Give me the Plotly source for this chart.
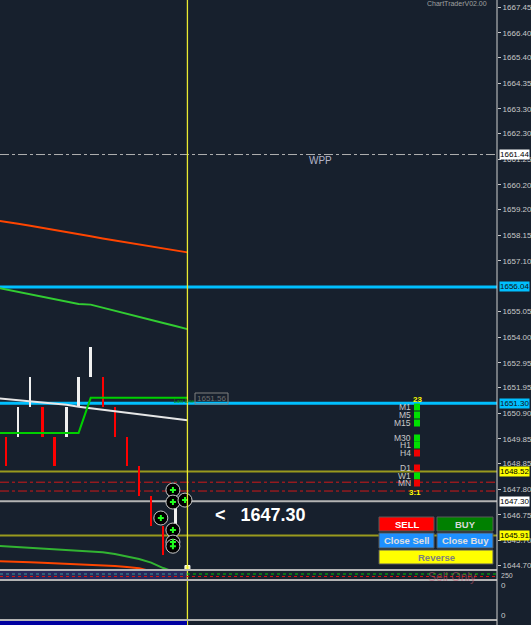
import plotly.graph_objects as go

# ---------------- data ----------------
bar_idx = list(range(15))
bar_open = [1649.94, 1649.94, 1651.15, 1651.15, 1649.94, 1649.94, 1651.15, 1652.37,
            1652.37, 1651.15, 1649.94, 1648.73, 1647.52, 1646.31, 1645.52]
bar_close = [1648.73, 1651.15, 1652.37, 1649.94, 1648.73, 1651.15, 1652.37, 1653.58,
             1651.15, 1649.94, 1648.73, 1647.52, 1646.31, 1645.10, 1647.55]

ma_idx = list(range(-1, 16))
ma_orange = [1658.76, 1658.70, 1658.62, 1658.54, 1658.46, 1658.37, 1658.28, 1658.20, 1658.11,
             1658.02, 1657.94, 1657.86, 1657.77, 1657.68, 1657.59, 1657.51, 1657.45]
ma_green = [1656.04, 1655.94, 1655.84, 1655.74, 1655.64, 1655.53, 1655.43, 1655.35, 1655.32,
            1655.20, 1655.08, 1654.95, 1654.83, 1654.70, 1654.57, 1654.45, 1654.32]
ma_white = [1651.52, 1651.47, 1651.43, 1651.39, 1651.35, 1651.30, 1651.24, 1651.16, 1651.10,
            1651.04, 1650.98, 1650.90, 1650.83, 1650.77, 1650.71, 1650.66, 1650.61]
step_green = [1650.09, 1650.09, 1650.09, 1650.09, 1650.09, 1650.09, 1650.09, 1650.09, 1651.52,
              1651.52, 1651.52, 1651.52, 1651.52, 1651.52, 1651.52, 1651.52, 1651.52]
low_green = [1645.49, 1645.46, 1645.44, 1645.41, 1645.38, 1645.35, 1645.32, 1645.29, 1645.26,
             1645.22, 1645.15, 1645.06, 1644.95, 1644.80, 1644.58, 1644.40, 1644.30]
low_orange = [1644.87, 1644.86, 1644.84, 1644.82, 1644.80, 1644.78, 1644.76, 1644.74, 1644.72,
              1644.69, 1644.66, 1644.62, 1644.57, 1644.45, 1644.35, 1644.30, 1644.25]

circ_x = [13.8, 13.8, 14.8, 12.8, 13.8, 13.8, 13.8]
circ_y = [1647.76, 1647.27, 1647.35, 1646.62, 1646.13, 1645.64, 1645.47]

tick_vals = [1667.45, 1666.40, 1665.40, 1664.35, 1663.30, 1662.30, 1661.25, 1660.20,
             1659.20, 1658.15, 1657.10, 1655.05, 1654.00, 1652.95, 1651.95, 1650.90,
             1649.85, 1648.85, 1647.80, 1646.75, 1645.70, 1644.70]
tick_text = ["%.2f" % v for v in tick_vals]

wpp_level = 1661.44
cyan_levels = [1656.04, 1651.30]
olive_levels = [1648.52, 1645.91]
red_levels = [1648.08, 1647.72]
price_level = 1647.30
current_bar = 15

tf_labels = ["M1", "M5", "M15", "M30", "H1", "H4", "D1", "W1", "MN"]
tf_colors = ["#00e000", "#00e000", "#00e000", "#00e000", "#00e000", "#f00000",
             "#f00000", "#00e000", "#f00000"]
tf_ypx = [407, 415, 423, 438, 445, 453, 468, 476, 483]

# ---------------- layout helpers ----------------
W, H = 531, 625
AX_X = 497
MAIN_BOTTOM = 570
BG = "#17202d"
Y0, Y1 = 1644.50, 1667.74
FONT = "Liberation Sans"


def px(x):
    return x / W


def py(y):
    return 1 - y / H


def note(x, y, text, size, color, xanchor="center", bold=False, **kw):
    d = dict(xref="paper", yref="paper", x=px(x), y=py(y), xanchor=xanchor, yanchor="middle",
             text="<b>%s</b>" % text if bold else text, showarrow=False, borderpad=0,
             font=dict(family=FONT, size=size, color=color))
    d.update(kw)
    return d


fig = go.Figure()

# candles
fig.add_trace(go.Bar(
    x=bar_idx, y=[c - o for o, c in zip(bar_open, bar_close)], base=bar_open,
    width=0.2,
    marker=dict(color=["#f0f0f0" if c > o else "#ff0000" for o, c in zip(bar_open, bar_close)],
                line=dict(width=0)),
    hoverinfo="skip", showlegend=False))

line_specs = [
    (ma_orange, "#ff4500", 2),
    (ma_green, "#32cd32", 2),
    (ma_white, "#e6e6e6", 2),
    (step_green, "#00d000", 2),
    (low_green, "#32b432", 2),
    (low_orange, "#ff4500", 2),
]
for vals, col, w in line_specs:
    fig.add_trace(go.Scatter(x=ma_idx, y=vals, mode="lines",
                             line=dict(color=col, width=w),
                             hoverinfo="skip", showlegend=False))

# trade circles
fig.add_trace(go.Scatter(x=circ_x, y=circ_y, mode="markers",
                         marker=dict(symbol="circle", size=14, color="#000000",
                                     line=dict(color="#c8c8c8", width=1)),
                         hoverinfo="skip", showlegend=False))
fig.add_trace(go.Scatter(x=circ_x, y=circ_y, mode="markers",
                         marker=dict(symbol="cross", size=5, color="#20ff20",
                                     line=dict(width=0)),
                         hoverinfo="skip", showlegend=False))
# small yellow marker at the current bar
fig.add_trace(go.Scatter(x=[current_bar], y=[1644.58], mode="markers",
                         marker=dict(symbol="square", size=5, color="#ffff80",
                                     line=dict(color="#ffffff", width=1)),
                         hoverinfo="skip", showlegend=False))

shapes = []


def hline(level, color, width, dash="solid"):
    shapes.append(dict(type="line", xref="paper", x0=0, x1=px(AX_X), yref="y",
                       y0=level, y1=level, line=dict(color=color, width=width, dash=dash),
                       layer="below"))


hline(wpp_level, "#b0b0b0", 1, "dashdot")
for lv in olive_levels:
    hline(lv, "#9a9a1e", 2)
for lv in red_levels:
    hline(lv, "#d01818", 1, "dashdot")
hline(price_level, "#b4b4b4", 2)
for lv in cyan_levels:
    hline(lv, "#00bfff", 3)

# vertical current-bar line
shapes.append(dict(type="line", xref="x", x0=current_bar, x1=current_bar, yref="paper",
                   y0=0, y1=1, line=dict(color="#eaea30", width=1.3)))

# sub panels
shapes += [
    dict(type="rect", xref="paper", yref="paper", x0=0, x1=px(187), y0=py(579), y1=py(571),
         fillcolor="#28285a", line=dict(width=0), layer="below"),
    dict(type="line", xref="paper", yref="paper", x0=0, x1=px(187), y0=py(574), y1=py(574),
         line=dict(color="#3c9696", width=1, dash="dot")),
    dict(type="line", xref="paper", yref="paper", x0=px(187), x1=px(AX_X), y0=py(574), y1=py(574),
         line=dict(color="#00c000", width=1, dash="dot")),
    dict(type="line", xref="paper", yref="paper", x0=0, x1=px(AX_X), y0=py(576.5), y1=py(576.5),
         line=dict(color="#d01818", width=1, dash="dot")),
    dict(type="line", xref="paper", yref="paper", x0=0, x1=px(AX_X), y0=py(570), y1=py(570),
         line=dict(color="#b4b4b4", width=2)),
    dict(type="line", xref="paper", yref="paper", x0=0, x1=px(AX_X), y0=py(580), y1=py(580),
         line=dict(color="#b4b4b4", width=2)),
    dict(type="line", xref="paper", yref="paper", x0=0, x1=px(AX_X), y0=py(620), y1=py(620),
         line=dict(color="#b4b4b4", width=2)),
    dict(type="rect", xref="paper", yref="paper", x0=0, x1=px(187), y0=0, y1=py(621),
         fillcolor="#0000a0", line=dict(width=0)),
    # price axis line (full height)
    dict(type="line", xref="paper", yref="paper", x0=px(AX_X), x1=px(AX_X), y0=0, y1=1,
         line=dict(color="#d0d0d0", width=1)),
    # 1651.56 box
    dict(type="rect", xref="paper", yref="paper", x0=px(195), x1=px(228), y0=py(404), y1=py(393),
         fillcolor="rgba(0,0,0,0)", line=dict(color="#808080", width=1)),
]

# trading buttons
buttons = [
    (379, 434, 517, 531, "#ff0000", "SELL", "#ffffff"),
    (437, 493, 517, 531, "#008000", "BUY", "#d8d8d8"),
    (379, 434, 533, 548, "#1e90ff", "Close Sell", "#e0e0e0"),
    (437, 493, 533, 548, "#1e90ff", "Close Buy", "#e0e0e0"),
    (379, 493, 550, 564, "#ffff00", "Reverse", "#808080"),
]
annotations = []
for x0, x1, y0, y1, fill, label, tcol in buttons:
    shapes.append(dict(type="rect", xref="paper", yref="paper", x0=px(x0), x1=px(x1),
                       y0=py(y1), y1=py(y0), fillcolor=fill,
                       line=dict(color="#5a5a5a", width=1)))
    annotations.append(note((x0 + x1) / 2, (y0 + y1) / 2, label, 9.5, tcol, bold=True))

# timeframe panel
for lab, col, ypx in zip(tf_labels, tf_colors, tf_ypx):
    shapes.append(dict(type="rect", xref="paper", yref="paper", x0=px(414), x1=px(420),
                       y0=py(ypx + 3.5), y1=py(ypx - 3.5), fillcolor=col, line=dict(width=0)))
    annotations.append(note(412, ypx, lab, 8.5, "#c8c8c8", xanchor="right"))
annotations.append(note(417, 399.5, "23", 8, "#ffff00", bold=True))
annotations.append(note(415, 492, "3:1", 8, "#ffff00", bold=True))

# price boxes on the axis
boxes = [
    (wpp_level, "#ffffff", "#000000"),
    (cyan_levels[0], "#00bfff", "#101010"),
    (cyan_levels[1], "#00bfff", "#101010"),
    (olive_levels[0], "#ffff00", "#000000"),
    (price_level, "#ffffff", "#000000"),
    (olive_levels[1], "#ffff00", "#000000"),
]
for lv, bg, fc in boxes:
    annotations.append(dict(xref="paper", x=px(499), xanchor="left", yref="y", y=lv,
                            yanchor="middle", text="%.2f" % lv, showarrow=False, bgcolor=bg,
                            borderpad=0, font=dict(family=FONT, size=8, color=fc)))

# other texts
annotations += [
    note(320, 160, "WPP", 10, "#b4b4c8"),
    note(260, 515, "<   1647.30", 18, "#ffffff", bold=True),
    note(211.5, 398.5, "1651.56", 8, "#707070"),
    note(184, 401, "Last Line", 5, "#00a000"),
    note(488, 3, "ChartTraderV02.00", 7, "#a0a0a0", xanchor="right"),
    note(452, 577, "Sell Only", 12, "rgba(200,90,110,0.5)"),
    note(500, 585, "0", 8, "#c8c8c8", xanchor="left"),
    note(500, 615, "0", 8, "#c8c8c8", xanchor="left"),
    note(500, 575.5, "250", 7, "#c8c8c8", xanchor="left"),
]

fig.update_layout(
    width=W, height=H,
    margin=dict(l=0, r=0, t=0, b=0),
    paper_bgcolor=BG, plot_bgcolor=BG,
    showlegend=False, bargap=0, hovermode=False,
    xaxis=dict(domain=[0, px(AX_X)], range=[-0.5, 40.6], visible=False, fixedrange=True),
    yaxis=dict(domain=[py(MAIN_BOTTOM), 1], range=[Y0, Y1], side="right",
               tickvals=tick_vals, ticktext=tick_text, ticks="outside", ticklen=3,
               tickcolor="#c8c8c8", showgrid=False, zeroline=False, showline=False,
               automargin=False, fixedrange=True,
               tickfont=dict(family=FONT, size=8, color="#c8c8c8")),
    shapes=shapes, annotations=annotations,
)

fig.write_html("out.html", config={"displayModeBar": False},
               post_script="document.body.style.margin='0';document.body.style.padding='0';"
                           "document.body.style.overflow='hidden';"
                           "document.body.style.background='%s';" % BG)
